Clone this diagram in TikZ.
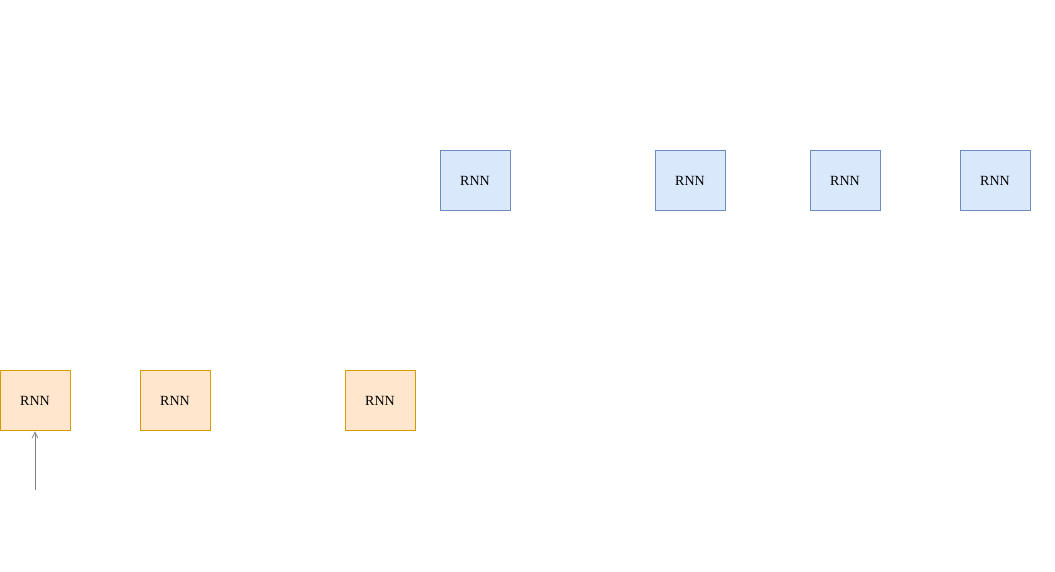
\documentclass[tikz,border=0pt]{standalone}
\usepackage{fontspec}
\setmainfont{Liberation Serif}
\usetikzlibrary{arrows.meta}
\definecolor{ofill}{HTML}{FFE6CC}
\definecolor{odraw}{HTML}{D79B00}
\definecolor{bfill}{HTML}{DAE8FC}
\definecolor{bdraw}{HTML}{6C8EBF}
\tikzset{
  rnnbox/.style={draw, minimum width=70pt, minimum height=60pt, inner sep=0pt, text height=11.5pt, text depth=0pt, font=\fontsize{14}{16}\selectfont, line width=0.8pt},
  orangebox/.style={rnnbox, fill=ofill, draw=odraw},
  bluebox/.style={rnnbox, fill=bfill, draw=bdraw},
  inarrow/.style={draw=gray, line width=0.8pt, shorten >=1pt, -{Straight Barb[length=6pt,width=6pt]}}
}
\begin{document}
\begin{tikzpicture}[x=1pt,y=-1pt]
\useasboundingbox (0,0) rectangle (1055,571);
\node[orangebox] (o1) at (35,400) {RNN};
\node[orangebox] (o2) at (175,400) {RNN};
\node[orangebox] (o3) at (380,400) {RNN};
\node[bluebox] (b1) at (475,180) {RNN};
\node[bluebox] (b2) at (690,180) {RNN};
\node[bluebox] (b3) at (845,180) {RNN};
\node[bluebox] (b4) at (995,180) {RNN};
\coordinate (in1) at (35,490);
\draw[inarrow] (in1) -- (o1.south);
\end{tikzpicture}
\end{document}
